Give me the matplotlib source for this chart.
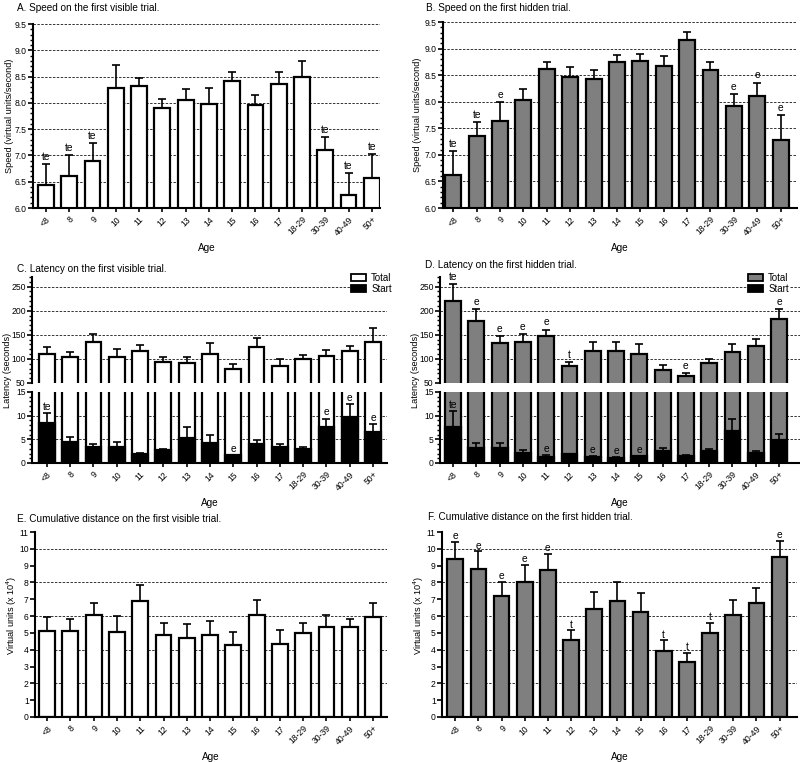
import matplotlib
matplotlib.use("Agg")
import matplotlib.pyplot as plt
from matplotlib.patches import Patch
from matplotlib.ticker import MultipleLocator
import numpy as np

plt.rcParams['font.family'] = ['Liberation Sans', 'DejaVu Sans']

ages = ['<8', '8', '9', '10', '11', '12', '13', '14', '15', '16', '17', '18-29', '30-39', '40-49', '50+']

# A. Speed, first visible trial
speed_vis = [6.43, 6.60, 6.89, 8.28, 8.32, 7.90, 8.05, 7.97, 8.41, 7.95, 8.36, 8.49, 7.11, 6.24, 6.57]
speed_vis_err = [0.40, 0.40, 0.35, 0.44, 0.16, 0.17, 0.22, 0.31, 0.17, 0.20, 0.22, 0.31, 0.24, 0.42, 0.46]
speed_vis_sig = ['te', 'te', 'te', '', '', '', '', '', '', '', '', '', 'te', 'te', 'te']

# B. Speed, first hidden trial
speed_hid = [6.62, 7.35, 7.63, 8.04, 8.61, 8.46, 8.43, 8.75, 8.76, 8.67, 9.17, 8.59, 7.92, 8.10, 7.28]
speed_hid_err = [0.45, 0.27, 0.36, 0.19, 0.13, 0.20, 0.17, 0.13, 0.14, 0.19, 0.15, 0.15, 0.23, 0.26, 0.47]
speed_hid_sig = ['te', 'te', 'e', '', '', '', '', '', '', '', '', '', 'e', 'e', 'e']

# C. Latency, first visible trial
lat_vis_total = [110, 103, 135, 104, 116, 94, 92, 111, 79, 124, 85, 100, 105, 116, 135]
lat_vis_total_err = [14, 11, 17, 16, 12, 10, 12, 23, 10, 19, 15, 8, 13, 11, 29]
lat_vis_total_sig = [''] * 15
lat_vis_start = [8.5, 4.5, 3.4, 3.4, 2.0, 2.7, 5.2, 4.3, 1.6, 4.1, 3.3, 3.0, 7.7, 9.8, 6.6]
lat_vis_start_err = [2.1, 1.0, 0.6, 1.1, 0.2, 0.3, 2.5, 1.6, 0.1, 0.8, 0.8, 0.4, 1.7, 2.6, 1.6]
lat_vis_start_sig = ['te', '', '', '', '', '', '', '', 'e', '', '', '', 'e', 'e', 'e']

# D. Latency, first hidden trial
lat_hid_total = [220, 178, 132, 135, 147, 85, 117, 116, 111, 77, 64, 91, 115, 126, 183]
lat_hid_total_err = [35, 25, 16, 16, 14, 9, 19, 19, 19, 10, 7, 9, 15, 16, 20]
lat_hid_total_sig = ['te', 'e', 'e', 'e', 'e', 't', '', '', '', '', 'e', '', '', '', 'e']
lat_hid_start = [7.6, 3.2, 3.2, 2.2, 1.3, 1.8, 1.2, 1.1, 1.4, 2.5, 1.5, 2.6, 6.8, 2.1, 4.8]
lat_hid_start_err = [3.4, 1.1, 1.1, 0.6, 0.3, 0.2, 0.2, 0.1, 0.1, 0.7, 0.1, 0.3, 2.4, 0.5, 1.4]
lat_hid_start_sig = ['te', '', '', '', 'e', '', 'e', 'e', 'e', '', '', '', '', '', '']

# E. Cumulative distance, first visible trial (x 10^4)
dist_vis = [5.12, 5.12, 6.05, 5.07, 6.90, 4.90, 4.70, 4.88, 4.28, 6.05, 4.35, 5.00, 5.35, 5.35, 5.93]
dist_vis_err = [0.80, 0.68, 0.75, 0.91, 0.93, 0.70, 0.82, 0.85, 0.77, 0.90, 0.80, 0.57, 0.72, 0.48, 0.87]
dist_vis_sig = [''] * 15

# F. Cumulative distance, first hidden trial (x 10^4)
dist_hid = [9.42, 8.80, 7.20, 8.02, 8.75, 4.55, 6.42, 6.88, 6.22, 3.92, 3.28, 4.97, 6.08, 6.80, 9.52]
dist_hid_err = [1.00, 1.05, 0.85, 1.00, 0.93, 0.60, 1.03, 1.15, 1.13, 0.63, 0.54, 0.63, 0.85, 0.85, 0.95]
dist_hid_sig = ['e', 'e', 'e', 'e', 'e', 't', '', '', '', 't', 't', 't', '', '', 'e']

W, H = 800, 762
fig = plt.figure(figsize=(8, 7.62), dpi=100)

GRAY = '#7f7f7f'
BW = 0.68
ELW = 1.6
TFS = 7.2
LFS = 6.6
TKFS = 6.2
x = np.arange(len(ages))


def px_axes(l, r, top, bottom):
    return fig.add_axes([l / W, 1 - bottom / H, (r - l) / W, (bottom - top) / H])


def style(ax, xlim, ylim, major, minor, grid, xt=True):
    ax.set_xlim(*xlim)
    ax.set_ylim(*ylim)
    for s in ['top', 'right']:
        ax.spines[s].set_visible(False)
    ax.spines['left'].set_linewidth(1.5)
    ax.spines['bottom'].set_linewidth(1.5)
    ax.yaxis.set_major_locator(MultipleLocator(major))
    if minor:
        ax.yaxis.set_minor_locator(MultipleLocator(minor))
    ax.tick_params(axis='y', which='major', direction='out', length=3.5, width=1.2, labelsize=TKFS, pad=1)
    ax.tick_params(axis='y', which='minor', direction='out', length=2, width=1.0)
    for g in grid:
        ax.axhline(g, color='#333333', lw=0.7, ls=(0, (2.5, 1.5)), zorder=0)
    if xt:
        ax.set_xticks(x)
        ax.set_xticklabels(ages, rotation=45, ha='right', rotation_mode='anchor', fontsize=TKFS)
        ax.tick_params(axis='x', direction='out', length=3, width=1.2, pad=2)
        ax.set_xlabel('Age', fontsize=LFS + 0.6, labelpad=4)


def bars(ax, vals, errs, sig, fc, ypad=1.6):
    ax.bar(x, vals, width=BW, color=fc, edgecolor='black', linewidth=ELW, zorder=2)
    ax.errorbar(x, vals, yerr=[np.zeros(len(vals)), errs], fmt='none', ecolor='black',
                elinewidth=1.2, capsize=3, capthick=1.2, zorder=3)
    for xi, v, e, s in zip(x, vals, errs, sig):
        if s:
            ax.annotate(s, (xi, v + e), xytext=(0, ypad), textcoords='offset points',
                        ha='center', va='bottom', fontsize=LFS + 0.8, zorder=4,
                        annotation_clip=False)


def title(xp, yp, t):
    fig.text(xp / W, 1 - yp / H, t, fontsize=TFS, va='center', ha='left')


def ylabel(xp, yp, t):
    fig.text(xp / W, 1 - yp / H, t, fontsize=LFS, rotation=90, va='center', ha='center')


# ---- A
axA = px_axes(33, 380, 24, 208)
style(axA, (-0.56, 14.35), (6.0, 9.5), 0.5, 0.1, [6.5, 7.0, 7.5, 8.0, 8.5, 9.0, 9.5])
axA.yaxis.set_major_formatter(matplotlib.ticker.FormatStrFormatter('%.1f'))
bars(axA, speed_vis, speed_vis_err, speed_vis_sig, 'white')
title(17, 8, 'A. Speed on the first visible trial.')
ylabel(10, 116, 'Speed (virtual units/second)')

# ---- B
axB = px_axes(443, 797, 22, 208)
style(axB, (-0.44, 14.7), (6.0, 9.5), 0.5, 0.1, [6.5, 7.0, 7.5, 8.0, 8.5, 9.0, 9.5])
axB.yaxis.set_major_formatter(matplotlib.ticker.FormatStrFormatter('%.1f'))
bars(axB, speed_hid, speed_hid_err, speed_hid_sig, GRAY)
title(426, 8, 'B. Speed on the first hidden trial.')
ylabel(417, 115, 'Speed (virtual units/second)')


def latency(l, r, tt, fc, total, total_err, total_sig, start, start_err, start_sig, xlim, tx, ty, lx, legx):
    axt = px_axes(l, r, 277, 383)
    style(axt, xlim, (50, 270), 50, 10, [100, 150, 200, 250], xt=False)
    axt.spines['bottom'].set_visible(False)
    axt.set_xticks([])
    bars(axt, total, total_err, total_sig, fc)
    axb = px_axes(l, r, 392, 463)
    style(axb, xlim, (0, 15), 5, 1, [5, 10])
    axb.bar(x, total, width=BW, color=fc, edgecolor='black', linewidth=ELW, zorder=2)
    bars(axb, start, start_err, start_sig, 'black', ypad=0.8)
    leg = axt.legend(handles=[Patch(facecolor=fc, edgecolor='black', linewidth=1.3, label='Total'),
                              Patch(facecolor='black', edgecolor='black', linewidth=1.3, label='Start')],
                     loc='upper right', bbox_to_anchor=(legx, 1.09), fontsize=LFS + 0.4,
                     frameon=True, framealpha=1, edgecolor='none', facecolor='white',
                     handlelength=1.6, handleheight=0.7, labelspacing=0.05, borderpad=0.1,
                     handletextpad=0.5)
    leg.set_zorder(5)
    title(tx, ty, tt)
    ylabel(lx, 370, 'Latency (seconds)')
    return axt, axb


latency(32, 387, 'C. Latency on the first visible trial.', 'white',
        lat_vis_total, lat_vis_total_err, lat_vis_total_sig,
        lat_vis_start, lat_vis_start_err, lat_vis_start_sig,
        (-0.64, 14.6), 17, 269, 8, 1.03)
latency(440, 800, 'D. Latency on the first hidden trial.', GRAY,
        lat_hid_total, lat_hid_total_err, lat_hid_total_sig,
        lat_hid_start, lat_hid_start_err, lat_hid_start_sig,
        (-0.56, 14.9), 425, 265, 415, 0.985)

# ---- E
axE = px_axes(35, 387, 532, 717)
style(axE, (-0.52, 14.6), (0, 11), 1, None, [2, 4, 6, 8, 10])
bars(axE, dist_vis, dist_vis_err, dist_vis_sig, 'white')
title(17, 519, 'E. Cumulative distance on the first visible trial.')
ylabel(12, 615, 'Virtual units (x 10$^4$)')

# ---- F
axF = px_axes(442, 797, 532, 717)
style(axF, (-0.57, 14.75), (0, 11), 1, None, [2, 4, 6, 8, 10])
bars(axF, dist_hid, dist_hid_err, dist_hid_sig, GRAY, ypad=0.6)
title(428, 517, 'F. Cumulative distance on the first hidden trial.')
ylabel(419, 615, 'Virtual units (x 10$^4$)')

fig.savefig('out.png', dpi=100, facecolor='white')
